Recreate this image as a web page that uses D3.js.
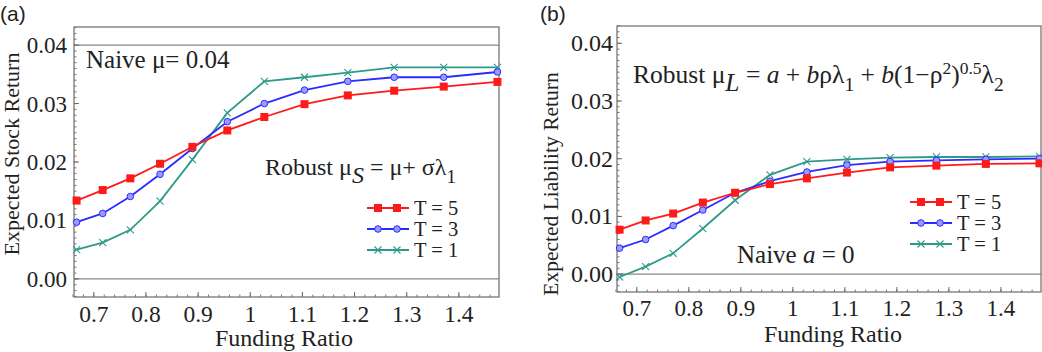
<!DOCTYPE html>
<html>
<head>
<meta charset="utf-8">
<script src="https://cdn.jsdelivr.net/npm/d3@7"></script>
<style>
  body { margin: 0; background: #fff; }
</style>
</head>
<body>
<div id="chart"></div>
<script>
// funding ratio grid (x), shared by both panels
var fundingRatio = [0.667, 0.717, 0.770, 0.827, 0.889, 0.956, 1.027, 1.104, 1.187, 1.276, 1.371, 1.474];

// panel (a): expected stock return
var stockT5 = [0.0134, 0.0152, 0.0172, 0.0197, 0.0226, 0.0254, 0.0277, 0.0299, 0.0314, 0.0322, 0.0329, 0.0337];
var stockT3 = [0.0097, 0.0112, 0.0141, 0.0179, 0.0223, 0.0269, 0.0300, 0.0323, 0.0338, 0.0345, 0.0345, 0.0354];
var stockT1 = [0.0050, 0.0062, 0.0084, 0.0133, 0.0204, 0.0284, 0.0338, 0.0345, 0.0353, 0.0362, 0.0362, 0.0362];

// panel (b): expected liability return
var liabT5 = [0.0077, 0.0093, 0.0105, 0.0124, 0.0141, 0.0156, 0.0166, 0.0176, 0.0185, 0.0188, 0.0191, 0.0192];
var liabT3 = [0.0045, 0.0060, 0.0084, 0.0111, 0.0141, 0.0161, 0.0177, 0.0189, 0.0195, 0.0197, 0.0199, 0.0200];
var liabT1 = [-0.0005, 0.0013, 0.0036, 0.0079, 0.0128, 0.0172, 0.0195, 0.0199, 0.0202, 0.0203, 0.0203, 0.0204];

var xTicks = [0.7, 0.8, 0.9, 1, 1.1, 1.2, 1.3, 1.4];
var yTicks = [0, 0.01, 0.02, 0.03, 0.04];
var seriesNames = ["T = 5", "T = 3", "T = 1"];

var colors = ["#ff1a1a", "#2b2bff", "#2f9a8a"];
var markers = ["square", "circle", "cross"];

var serif = "'Liberation Serif', 'Times New Roman', 'DejaVu Serif', serif";

var svg = d3.select("#chart").append("svg")
    .attr("width", 1042)
    .attr("height", 352)
    .attr("font-family", serif)
    .attr("fill", "#222");

function drawMarker(g, type, cx, cy, col) {
  if (type == "square") {
    g.append("rect").attr("x", cx - 4).attr("y", cy - 4)
      .attr("width", 8).attr("height", 8).attr("fill", col);
  } else if (type == "circle") {
    g.append("circle").attr("cx", cx).attr("cy", cy).attr("r", 3.3)
      .attr("fill", "#9a9aff").attr("stroke", col).attr("stroke-width", 1);
  } else {
    g.append("path")
      .attr("d", "M" + (cx - 3.5) + "," + (cy - 3.5) + "L" + (cx + 3.5) + "," + (cy + 3.5) +
                 "M" + (cx - 3.5) + "," + (cy + 3.5) + "L" + (cx + 3.5) + "," + (cy - 3.5))
      .attr("stroke", col).attr("stroke-width", 1.1).attr("fill", "none");
  }
}

function drawPanel(p) {
  var x = d3.scaleLinear().domain([0.662, 1.477]).range([p.left, p.right]);
  var y = d3.scaleLinear().domain(p.yDomain).range([p.bottom, p.top]);
  var g = svg.append("g");

  // reference lines
  p.refLines.forEach(function (v) {
    g.append("line").attr("x1", p.left).attr("x2", p.right)
      .attr("y1", y(v)).attr("y2", y(v))
      .attr("stroke", "#888").attr("stroke-width", 1.2);
  });

  // frame ticks (inward, Mathematica style)
  var minorX = d3.range(0.66, 1.48, 0.02);
  var minorY = d3.range(-0.003, 0.0431, 0.001);
  minorX.forEach(function (v) {
    g.append("line").attr("x1", x(v)).attr("x2", x(v))
      .attr("y1", p.bottom).attr("y2", p.bottom - 2.5).attr("stroke", "#777");
  });
  minorY.forEach(function (v) {
    g.append("line").attr("x1", p.left).attr("x2", p.left + 2.5)
      .attr("y1", y(v)).attr("y2", y(v)).attr("stroke", "#777");
  });
  xTicks.forEach(function (v) {
    g.append("line").attr("x1", x(v)).attr("x2", x(v))
      .attr("y1", p.bottom).attr("y2", p.bottom - 5).attr("stroke", "#666");
    g.append("text").attr("x", x(v)).attr("y", p.xLabelY)
      .attr("text-anchor", "middle").attr("font-size", p.xTickSize)
      .text(d3.format("")(v));
  });
  yTicks.forEach(function (v) {
    g.append("line").attr("x1", p.left).attr("x2", p.left + 5)
      .attr("y1", y(v)).attr("y2", y(v)).attr("stroke", "#666");
    g.append("text").attr("x", p.yLabelX).attr("y", y(v) + 8)
      .attr("text-anchor", "end").attr("font-size", p.yTickSize)
      .text(d3.format(".2f")(v));
  });

  g.append("rect").attr("x", p.left).attr("y", p.top)
    .attr("width", p.right - p.left).attr("height", p.bottom - p.top)
    .attr("fill", "none").attr("stroke", "#777").attr("stroke-width", 1.3);

  // series
  var line = d3.line()
    .x(function (d) { return x(d[0]); })
    .y(function (d) { return y(d[1]); });
  var order = [2, 1, 0];
  order.forEach(function (i) {
    var pts = fundingRatio.map(function (f, k) { return [f, p.series[i][k]]; });
    g.append("path").datum(pts).attr("d", line)
      .attr("fill", "none").attr("stroke", colors[i]).attr("stroke-width", 1.8);
    pts.forEach(function (d) { drawMarker(g, markers[i], x(d[0]), y(d[1]), colors[i]); });
  });

  // legend
  seriesNames.forEach(function (name, i) {
    var ly = p.legendY + i * 21;
    g.append("line").attr("x1", p.legendX).attr("x2", p.legendX + 42)
      .attr("y1", ly).attr("y2", ly).attr("stroke", colors[i]).attr("stroke-width", 1.8);
    drawMarker(g, markers[i], p.legendX + 11, ly, colors[i]);
    drawMarker(g, markers[i], p.legendX + 30, ly, colors[i]);
    g.append("text").attr("x", p.legendX + 47).attr("y", ly + 7)
      .attr("font-size", 20.5).text(name);
  });

  // axis titles
  g.append("text").attr("x", p.xTitleX).attr("y", p.xTitleY)
    .attr("text-anchor", "middle").attr("font-size", 24).text("Funding Ratio");
  g.append("text")
    .attr("transform", "translate(" + p.yTitleX + "," + p.yTitleY + ") rotate(-90)")
    .attr("text-anchor", "middle").attr("font-size", p.yTitleSize).text(p.yTitle);

  // panel tag
  g.append("text").attr("x", p.tagX).attr("y", 21)
    .attr("font-family", "'Liberation Sans', Arial, sans-serif")
    .attr("font-size", 21).text(p.tag);

  return g;
}

var ga = drawPanel({
  left: 74, right: 499, top: 27, bottom: 297,
  yDomain: [-0.0031, 0.0431],
  refLines: [0, 0.04],
  series: [stockT5, stockT3, stockT1],
  xLabelY: 322, yLabelX: 67, xTickSize: 23.5, yTickSize: 23,
  legendX: 367, legendY: 208,
  xTitleX: 284, xTitleY: 346, yTitleX: 19, yTitleY: 154, yTitleSize: 22,
  yTitle: "Expected Stock Return", tag: "(a)", tagX: 0
});

var gb = drawPanel({
  left: 617, right: 1041, top: 26, bottom: 292,
  yDomain: [-0.0031, 0.0430],
  refLines: [0],
  series: [liabT5, liabT3, liabT1],
  xLabelY: 316, yLabelX: 613, xTickSize: 23, yTickSize: 24,
  legendX: 910, legendY: 202,
  xTitleX: 833, xTitleY: 342, yTitleX: 558, yTitleY: 184, yTitleSize: 21.5,
  yTitle: "Expected Liability Return", tag: "(b)", tagX: 540
});

// annotations, panel (a)
ga.append("text").attr("x", 86).attr("y", 68).attr("font-size", 25).text("Naive \u03bc= 0.04");
var ra = ga.append("text").attr("x", 265).attr("y", 175).attr("font-size", 24);
ra.append("tspan").text("Robust \u03bc");
ra.append("tspan").attr("dy", 8).attr("font-style", "italic").text("S");
ra.append("tspan").attr("dy", -8).text(" = \u03bc+ \u03c3\u03bb");
ra.append("tspan").attr("dy", 8).attr("font-size", 19).text("1");

// annotations, panel (b)
var rb = gb.append("text").attr("x", 633).attr("y", 83).attr("font-size", 25.5);
rb.append("tspan").text("Robust \u03bc");
rb.append("tspan").attr("dy", 8).attr("font-style", "italic").text("L");
rb.append("tspan").attr("dy", -8).text(" = ");
rb.append("tspan").attr("font-style", "italic").text("a");
rb.append("tspan").text(" + ");
rb.append("tspan").attr("font-style", "italic").text("b");
rb.append("tspan").text("\u03c1\u03bb");
rb.append("tspan").attr("dy", 8).attr("font-size", 19.5).text("1");
rb.append("tspan").attr("dy", -8).text(" + ");
rb.append("tspan").attr("font-style", "italic").text("b");
rb.append("tspan").text("(1\u2212\u03c1");
rb.append("tspan").attr("dy", -9).attr("font-size", 17.5).text("2");
rb.append("tspan").attr("dy", 9).text(")");
rb.append("tspan").attr("dy", -9).attr("font-size", 17.5).text("0.5");
rb.append("tspan").attr("dy", 9).text("\u03bb");
rb.append("tspan").attr("dy", 8).attr("font-size", 19.5).text("2");

var nb = gb.append("text").attr("x", 737).attr("y", 263).attr("font-size", 25);
nb.append("tspan").text("Naive  ");
nb.append("tspan").attr("font-style", "italic").text("a");
nb.append("tspan").text(" = 0");
</script>
</body>
</html>
